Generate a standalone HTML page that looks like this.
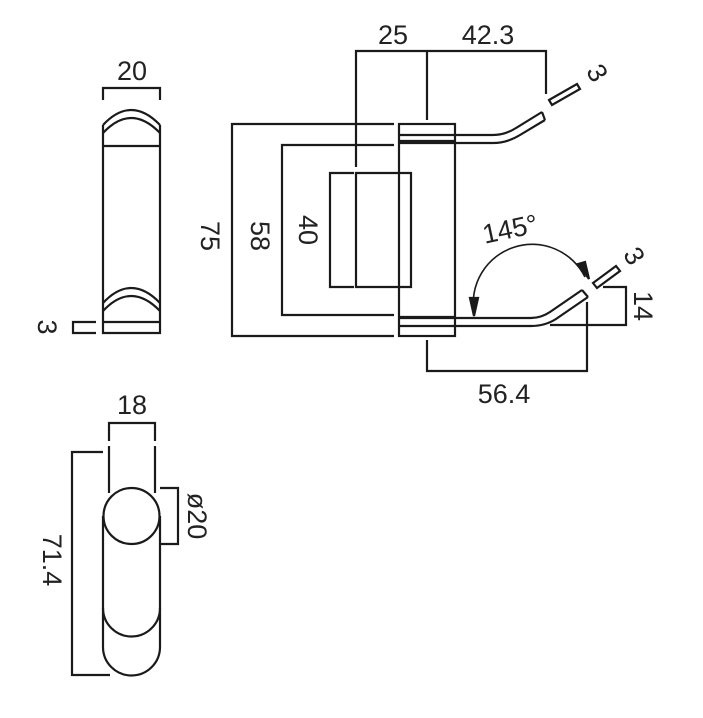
<!DOCTYPE html>
<html><head><style>body{margin:0;background:#fff}svg{display:block}text{font-family:"Liberation Sans",sans-serif;font-size:27px;fill:#222}</style></head>
<body>
<svg width="703" height="718" viewBox="0 0 703 718" fill="none" stroke="#1a1a1a" stroke-width="2.2">
<path d="M103 100V88H160V100"/>
<text x="132" y="80" text-anchor="middle" stroke="none">20</text>
<path d="M103 125V333H160V125"/>
<path d="M103 125Q131 95 160 125"/>
<path d="M103 133Q131 103 160 133"/>
<path d="M103 146H160"/>
<path d="M103 303Q131 273 160 303"/>
<path d="M103 311Q131 281 160 311"/>
<path d="M103 322H160"/>
<path d="M96 322H73V333H96"/>
<text transform="translate(47,327) rotate(90)" text-anchor="middle" stroke="none" dy="9">3</text>

<path d="M356 167V51H546V94"/>
<path d="M427 51V120"/>
<text x="393" y="44" text-anchor="middle" stroke="none">25</text>
<text x="488" y="44" text-anchor="middle" stroke="none">42.3</text>
<rect x="399" y="124" width="56" height="212"/>
<path d="M399 135H493Q505 135 516 128L542 112"/>
<path d="M399 143H493Q507 143 520 135L545 120"/>
<path d="M542 112L545 120" />
<path d="M399 141H455M399 317H455"/>
<path d="M549 100L577 84L580 89L552 105Z"/>
<text transform="translate(597,73) rotate(60)" text-anchor="middle" stroke="none" dy="9">3</text>
<path d="M394 124H232V336H394"/>
<path d="M394 145H282V315H394"/>
<text transform="translate(210,236) rotate(90)" text-anchor="middle" stroke="none" dy="9">75</text>
<text transform="translate(260,236) rotate(90)" text-anchor="middle" stroke="none" dy="9">58</text>
<text transform="translate(308,230) rotate(90)" text-anchor="middle" stroke="none" dy="9">40</text>
<path d="M354 173H330V287H354"/>
<path d="M356 173H411V287H356Z"/>
<path d="M399 318H531Q541 318 550 312L582 290"/>
<path d="M399 326H531Q545 326 556 319L588 297"/>
<path d="M582 290L588 297"/>
<path d="M593 283L616 266L620 271L597 288Z"/>
<text transform="translate(634,256) rotate(60)" text-anchor="middle" stroke="none" dy="9">3</text>
<path d="M474 313A59 59 0 0 1 585 277" stroke-width="1.6"/>
<path d="M470 298L478 298L474 316Z" fill="#1a1a1a"/>
<path d="M578 264L585 262L589 279Z" fill="#1a1a1a"/>
<text transform="translate(512,238) rotate(-12)" text-anchor="middle" stroke="none">145°</text>
<path d="M603 287H626V325H550"/>
<text transform="translate(643,306) rotate(90)" text-anchor="middle" stroke="none" dy="9">14</text>
<path d="M427 340V371H587V302"/>
<text x="504" y="403" text-anchor="middle" stroke="none">56.4</text>

<path d="M109 441V423H155V441"/>
<text x="132" y="414" text-anchor="middle" stroke="none">18</text>
<path d="M109 446V493M155 446V493"/>
<path d="M103 452H72V675H110"/>
<text transform="translate(52,560) rotate(90)" text-anchor="middle" stroke="none" dy="9">71.4</text>
<path d="M103 516V647A28.5 28.5 0 0 0 160 647V516"/>
<path d="M103 608A28.5 28.5 0 0 0 160 608"/>
<circle cx="131.5" cy="516" r="28" fill="#fff"/>
<path d="M160 488H178V544H160"/>
<text transform="translate(197,516) rotate(90)" text-anchor="middle" stroke="none" dy="9">ø20</text>
</svg>
</body></html>
